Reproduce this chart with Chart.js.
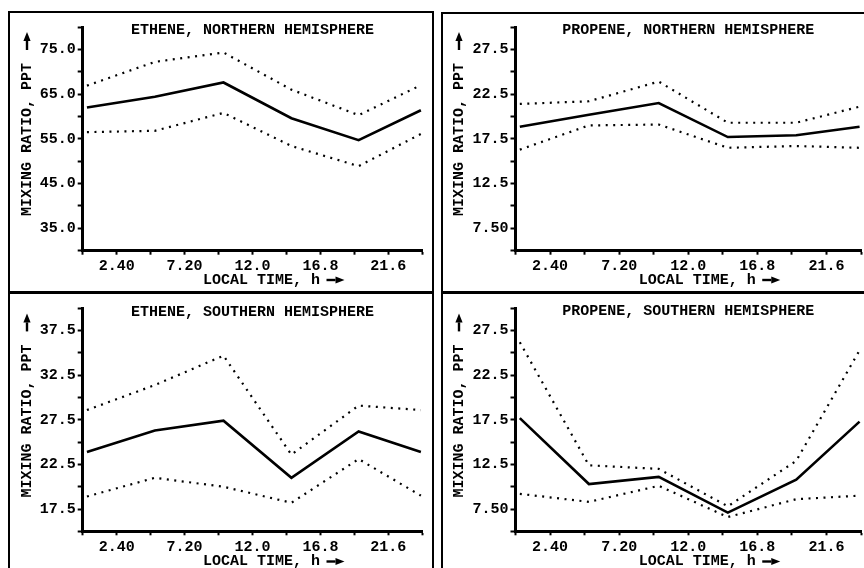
<!DOCTYPE html>
<html><head><meta charset="utf-8">
<script src="https://cdn.jsdelivr.net/npm/chart.js@4.4.1/dist/chart.umd.min.js"></script>
<style>
html,body{margin:0;padding:0;background:#fff;width:864px;height:568px;overflow:hidden;position:relative;}
canvas{position:absolute;}
.ln{position:absolute;background:#000;}
</style></head><body>
<canvas id="c1" width="432" height="288" style="left:0;top:0"></canvas>
<canvas id="c2" width="432" height="288" style="left:432px;top:0"></canvas>
<canvas id="c3" width="432" height="290" style="left:0;top:289px"></canvas>
<canvas id="c4" width="432" height="290" style="left:432px;top:289px"></canvas>
<div class="ln" style="left:9px;top:11px;width:425px;height:2px"></div>
<div class="ln" style="left:441px;top:12px;width:423px;height:2px"></div>
<div class="ln" style="left:8px;top:291px;width:426px;height:3px"></div>
<div class="ln" style="left:441px;top:291px;width:423px;height:3px"></div>
<div class="ln" style="left:8px;top:11px;width:2px;height:557px"></div>
<div class="ln" style="left:432px;top:11px;width:2px;height:557px"></div>
<div class="ln" style="left:441px;top:12px;width:2px;height:556px"></div>
<script>
// ---- data ----
const hours = [0.3, 5.1, 9.95, 14.75, 19.5, 23.9];
const xTickValues = [0, 2.4, 4.8, 7.2, 9.6, 12, 14.4, 16.8, 19.2, 21.6, 24];
const xTickLabels = ['', '2.40', '', '7.20', '', '12.0', '', '16.8', '', '21.6', ''];

const ethNHMean  = [62.0, 64.4, 67.6, 59.6, 54.7, 61.4];
const ethNHUpper = [66.9, 72.2, 74.3, 66.0, 60.3, 67.0];
const ethNHLower = [56.5, 56.8, 60.8, 53.4, 48.9, 56.1];

const propNHMean  = [18.85, 20.2, 21.5, 17.7, 17.9, 18.85];
const propNHUpper = [21.4, 21.7, 23.9, 19.3, 19.3, 21.1];
const propNHLower = [16.3, 19.0, 19.1, 16.5, 16.7, 16.5];

const ethSHMean  = [23.9, 26.3, 27.4, 21.0, 26.2, 23.9];
const ethSHUpper = [28.6, 31.4, 34.7, 23.6, 29.1, 28.6];
const ethSHLower = [18.9, 21.0, 20.0, 18.2, 23.1, 19.0];

const propSHMean  = [17.7, 10.3, 11.1, 7.1, 10.8, 17.3];
const propSHUpper = [26.2, 12.4, 12.0, 7.8, 12.9, 25.3];
const propSHLower = [9.2, 8.3, 10.1, 6.6, 8.6, 9.0];

const ethNHYTicks  = [30, 35, 40, 45, 50, 55, 60, 65, 70, 75, 80];
const ethNHYLabels = ['', '35.0', '', '45.0', '', '55.0', '', '65.0', '', '75.0', ''];
const ethSHYTicks  = [15, 17.5, 20, 22.5, 25, 27.5, 30, 32.5, 35, 37.5, 40];
const ethSHYLabels = ['', '17.5', '', '22.5', '', '27.5', '', '32.5', '', '37.5', ''];
const propYTicks   = [5, 7.5, 10, 12.5, 15, 17.5, 20, 22.5, 25, 27.5, 30];
const propYLabels  = ['', '7.50', '', '12.5', '', '17.5', '', '22.5', '', '27.5', ''];

const titles = ['ETHENE, NORTHERN HEMISPHERE', 'PROPENE, NORTHERN HEMISPHERE',
                'ETHENE, SOUTHERN HEMISPHERE', 'PROPENE, SOUTHERN HEMISPHERE'];
const xTitle = '  LOCAL TIME, h';
const yTitle = 'MIXING RATIO, PPT    ';

// ---- drawing ----
Chart.defaults.font.family = "'Liberation Mono', 'DejaVu Sans Mono', monospace";
Chart.defaults.font.weight = 'bold';
Chart.defaults.font.size = 15;
Chart.defaults.color = '#000';

function arrow(ctx, x0, y0, x1, y1) {
  const dx = x1 - x0, dy = y1 - y0, L = Math.hypot(dx, dy), ux = dx / L, uy = dy / L;
  const hl = 9, hw = 3.6;
  ctx.beginPath(); ctx.moveTo(x0, y0); ctx.lineTo(x1 - ux * hl, y1 - uy * hl); ctx.stroke();
  ctx.beginPath(); ctx.moveTo(x1, y1);
  ctx.lineTo(x1 - ux * hl - uy * hw, y1 - uy * hl + ux * hw);
  ctx.lineTo(x1 - ux * hl + uy * hw, y1 - uy * hl - ux * hw);
  ctx.closePath(); ctx.fill();
}

function build(id, p) {
  const pts = arr => hours.map((h, i) => ({x: h, y: arr[i]}));
  const dotted = arr => ({data: pts(arr), borderColor: '#000', borderWidth: 2.2, borderDash: [2, 5.5],
                          pointRadius: 0, fill: false, tension: 0});
  const grid = len => ({display: true, drawOnChartArea: false, drawTicks: true, tickLength: len,
                        tickWidth: 2, tickColor: '#000', color: '#000'});
  const arrows = {
    id: 'axisArrows',
    afterDraw(chart) {
      const {ctx, chartArea, scales} = chart;
      ctx.save(); ctx.fillStyle = '#000'; ctx.strokeStyle = '#000'; ctx.lineWidth = 2.4;
      const cx = (chartArea.left + chartArea.right) / 2;
      const ty = scales.x.bottom - 9 - p.xTitlePad;
      arrow(ctx, cx + 74, ty, cx + 92, ty);
      const tx = scales.y.left + 27;
      arrow(ctx, tx, chartArea.top + 23, tx, chartArea.top + 5);
      ctx.restore();
    }
  };
  new Chart(document.getElementById(id), {
    type: 'line',
    data: {datasets: [
      dotted(p.upper), dotted(p.lower),
      {data: pts(p.mean), borderColor: '#000', borderWidth: 2.6, pointRadius: 0, fill: false, tension: 0}
    ]},
    options: {
      responsive: false, animation: false, devicePixelRatio: 1,
      layout: {padding: {left: 0, right: p.rightPad, top: 0, bottom: 0}},
      plugins: {
        legend: {display: false}, tooltip: {enabled: false},
        title: {display: true, text: p.title, fullSize: false, color: '#000',
                font: {size: 15, weight: 'bold'}, padding: p.titlePad}
      },
      scales: {
        x: {type: 'linear', min: 0, max: 24, position: 'bottom',
            afterBuildTicks: s => { s.ticks = xTickValues.map(v => ({value: v})); },
            afterFit: s => { s.height = p.xHeight; },
            ticks: {autoSkip: false, maxRotation: 0, minRotation: 0, padding: 3,
                    callback: (v, i) => xTickLabels[i]},
            grid: grid(4),
            border: {display: true, color: '#000', width: 3},
            title: {display: true, text: xTitle, padding: {top: 0, bottom: p.xTitlePad}}},
        y: {type: 'linear', min: p.yMin, max: p.yMax, position: 'left',
            afterBuildTicks: s => { s.ticks = p.yTicks.map(v => ({value: v})); },
            afterFit: s => { s.width = p.yWidth; },
            ticks: {autoSkip: false, padding: 2, callback: (v, i) => p.yLabels[i]},
            grid: grid(5),
            border: {display: true, color: '#000', width: 3},
            title: {display: true, text: yTitle, align: 'end', padding: {top: 18, bottom: 0}}}
      }
    },
    plugins: [arrows]
  });
}

build('c1', {title: titles[0], mean: ethNHMean, upper: ethNHUpper, lower: ethNHLower,
  yMin: 30, yMax: 80, yTicks: ethNHYTicks, yLabels: ethNHYLabels,
  yWidth: 82.7, rightPad: 9.7, titlePad: {top: 21, bottom: -12}, xHeight: 37.3, xTitlePad: -1});
build('c2', {title: titles[1], mean: propNHMean, upper: propNHUpper, lower: propNHLower,
  yMin: 5, yMax: 30, yTicks: propYTicks, yLabels: propYLabels,
  yWidth: 83.5, rightPad: 0.5, titlePad: {top: 21, bottom: -12}, xHeight: 37.3, xTitlePad: -1});
build('c3', {title: titles[2], mean: ethSHMean, upper: ethSHUpper, lower: ethSHLower,
  yMin: 15, yMax: 40, yTicks: ethSHYTicks, yLabels: ethSHYLabels,
  yWidth: 82.7, rightPad: 9.7, titlePad: {top: 14.3, bottom: -12.9}, xHeight: 47.7, xTitlePad: 8.5});
build('c4', {title: titles[3], mean: propSHMean, upper: propSHUpper, lower: propSHLower,
  yMin: 5, yMax: 30, yTicks: propYTicks, yLabels: propYLabels,
  yWidth: 83.5, rightPad: 0.5, titlePad: {top: 13.5, bottom: -12.1}, xHeight: 47.7, xTitlePad: 8.5});
</script>
</body></html>
